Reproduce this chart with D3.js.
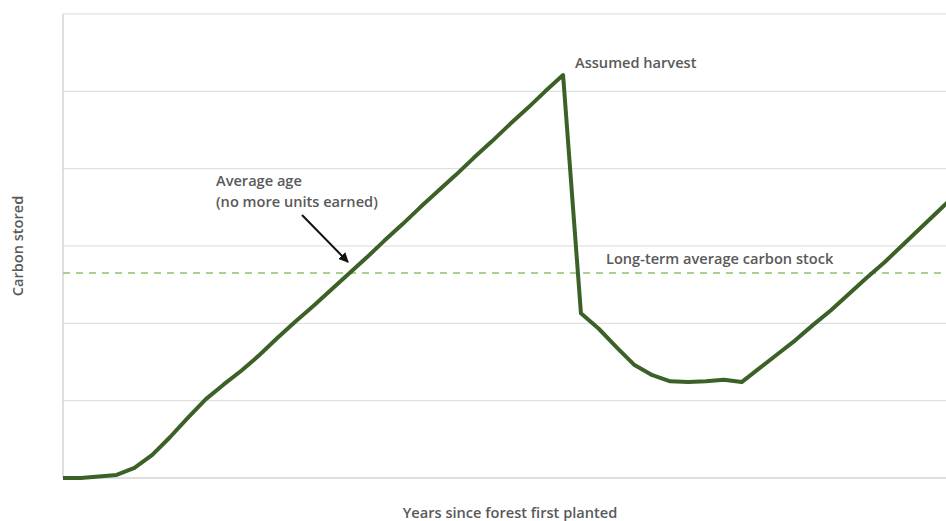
<!DOCTYPE html>
<html>
<head>
<meta charset="utf-8">
<script src="https://cdn.jsdelivr.net/npm/d3@7"></script>
<style>
  html, body { margin: 0; padding: 0; background: #ffffff; }
  svg { display: block; }
  text { font-family: "Open Sans", "Noto Sans", sans-serif; font-weight: 600; fill: #595959; }
</style>
</head>
<body>
<script>
// Years since planting (one point per year)
const years = d3.range(0, 51);

// Carbon stored (relative units) for each year
const carbon = [
  0.00, 0.00, 0.02, 0.04, 0.13, 0.30, 0.53, 0.78, 1.02, 1.21,
  1.39, 1.59, 1.81, 2.02, 2.22, 2.43, 2.64, 2.85, 3.07, 3.28,
  3.50, 3.71, 3.92, 4.14, 4.35, 4.57, 4.78, 5.00, 5.21, 2.13,
  1.93, 1.69, 1.46, 1.33, 1.25, 1.24, 1.25, 1.27, 1.24, 1.42,
  1.60, 1.78, 1.98, 2.17, 2.38, 2.59, 2.79, 3.01, 3.23, 3.45,
  3.67
];

// Long-term average carbon stock
const averageStock = 2.65;

// Horizontal gridline values
const gridValues = [0, 1, 2, 3, 4, 5, 6];

const W = 946, H = 521;
const margin = { left: 63, top: 14, bottom: 43 };
const fs = 14.6;

const svg = d3.select("body").append("svg")
  .attr("width", W).attr("height", H);

const x = d3.scaleLinear().domain([0, 50]).range([margin.left, margin.left + 50 * 17.86]);
const y = d3.scaleLinear().domain([0, 6]).range([H - margin.bottom, margin.top]);

// gridlines
svg.append("g").selectAll("line").data(gridValues.slice(1)).join("line")
  .attr("x1", margin.left).attr("x2", W)
  .attr("y1", d => y(d)).attr("y2", d => y(d))
  .attr("stroke", "#d9d9d9").attr("stroke-width", 1);

// axes lines
svg.append("line")
  .attr("x1", margin.left).attr("x2", W)
  .attr("y1", y(0)).attr("y2", y(0))
  .attr("stroke", "#bfbfbf").attr("stroke-width", 1);
svg.append("line")
  .attr("x1", margin.left).attr("x2", margin.left)
  .attr("y1", y(0)).attr("y2", y(6))
  .attr("stroke", "#bfbfbf").attr("stroke-width", 1);

// long-term average (dashed)
svg.append("line")
  .attr("x1", margin.left).attr("x2", W)
  .attr("y1", y(averageStock)).attr("y2", y(averageStock))
  .attr("stroke", "#a9d18e").attr("stroke-width", 2)
  .attr("stroke-dasharray", "7,6");

// carbon stock line
const line = d3.line().x((d, i) => x(years[i])).y(d => y(d));
svg.append("path")
  .datum(carbon)
  .attr("d", line)
  .attr("fill", "none")
  .attr("stroke", "#3b6127")
  .attr("stroke-width", 4)
  .attr("stroke-linejoin", "round");

// arrow marker
svg.append("defs").append("marker")
  .attr("id", "arrowhead")
  .attr("viewBox", "0 0 10 10")
  .attr("refX", 9).attr("refY", 5)
  .attr("markerWidth", 5).attr("markerHeight", 5)
  .attr("orient", "auto")
  .append("path").attr("d", "M0,0 L10,5 L0,10 z").attr("fill", "#111");

svg.append("line")
  .attr("x1", 302).attr("y1", 215)
  .attr("x2", 348).attr("y2", 262)
  .attr("stroke", "#111").attr("stroke-width", 2)
  .attr("marker-end", "url(#arrowhead)");

// annotations
svg.append("text").attr("x", 575).attr("y", 68)
  .attr("font-size", fs).text("Assumed harvest");
svg.append("text").attr("x", 216).attr("y", 186)
  .attr("font-size", fs).text("Average age");
svg.append("text").attr("x", 216).attr("y", 207)
  .attr("font-size", fs).text("(no more units earned)");
svg.append("text").attr("x", 606).attr("y", 264)
  .attr("font-size", fs).text("Long-term average carbon stock");

// axis titles
svg.append("text").attr("x", 510).attr("y", 518)
  .attr("text-anchor", "middle").attr("font-size", fs)
  .text("Years since forest first planted");
svg.append("text")
  .attr("transform", "translate(23,246) rotate(-90)")
  .attr("text-anchor", "middle").attr("font-size", fs)
  .text("Carbon stored");
</script>
</body>
</html>
